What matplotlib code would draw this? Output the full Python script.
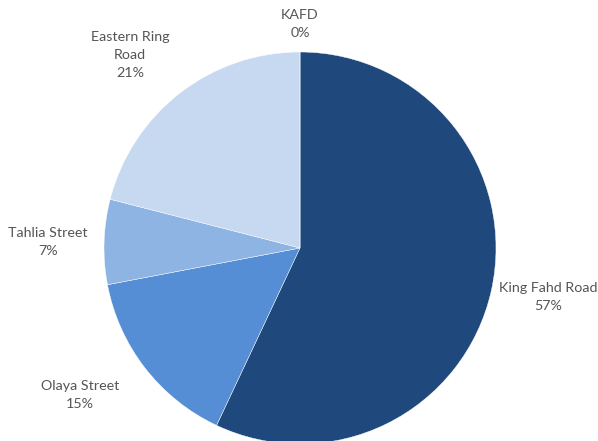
import matplotlib
matplotlib.use("Agg")
import matplotlib.pyplot as plt

roads = ["King Fahd Road", "Olaya Street", "Tahlia Street", "Eastern Ring\nRoad", "KAFD"]
shares = [57, 15, 7, 21, 0]
colors = ["#1F497D", "#558ED5", "#8EB4E3", "#C6D9F1", "#C6D9F1"]

# label anchor points in pixel space (x, y from top)
label_xy = [(548, 297), (80, 395), (48, 242), (130, 55), (300, 24)]

W, H = 598, 441
fig = plt.figure(figsize=(W / 100, H / 100), dpi=100)
ax = fig.add_axes([0, 0, 1, 1])

ax.pie(shares, colors=colors, startangle=90, counterclock=False,
       center=(300, H - 248), radius=196,
       wedgeprops=dict(edgecolor="white", linewidth=0.3))
ax.set_xlim(0, W)
ax.set_ylim(0, H)
ax.set_aspect("equal")
ax.axis("off")

for name, val, (x, y) in zip(roads, shares, label_xy):
    ax.text(x, H - y, f"{name}\n{val}%", ha="center", va="center",
            fontsize=10.3, color="#555555", family=["Lato", "DejaVu Sans"],
            linespacing=1.6)

fig.savefig("out.png", dpi=100)
